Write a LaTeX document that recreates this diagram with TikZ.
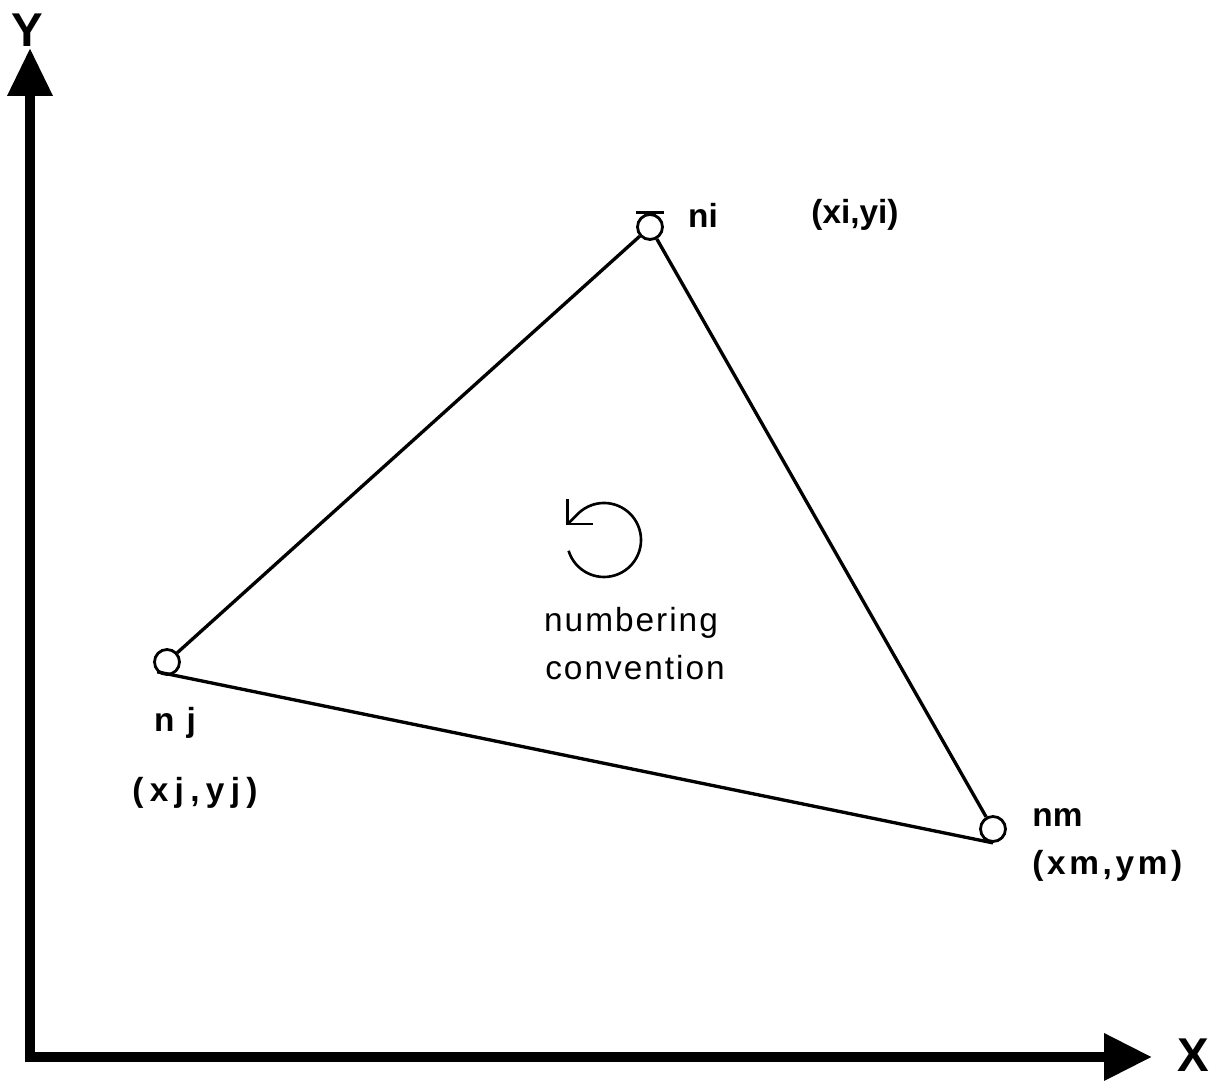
\documentclass[tikz,border=0pt]{standalone}
\usepackage{fontspec}
\setmainfont{Liberation Sans}
\usepackage{tikz}
\usetikzlibrary{arrows.meta,positioning}
\tikzset{
  mesh-axis/.style={draw=black, line width=0.2cm, line join=miter},
  mesh-node/.style={circle, draw=black, fill=white, line width=1.6pt, minimum size=0.5cm, inner sep=0pt},
  mesh-edge/.style={draw=black, line width=1.9pt},
  mesh-label/.style={font=\bfseries\fontsize{19}{22}\selectfont, inner sep=0pt},
  mesh-note/.style={font=\fontsize{19}{22}\selectfont\addfontfeature{LetterSpace=6}, inner sep=0pt},
  axis-label/.style={font=\bfseries\fontsize{27}{30}\selectfont, inner sep=0pt}
}

\begin{document}
\begin{tikzpicture}[x=0.02cm, y=0.02cm]
  \useasboundingbox (0,0) rectangle (1218,1084);

  % Axes
  \coordinate (origin) at (30,27);
  \coordinate (ytip) at (30,1036);
  \coordinate (xtip) at (1152,27);
  \draw[mesh-axis, {Triangle[length=0.96cm, width=0.86cm]}-{Triangle[length=0.96cm, width=0.9cm]}]
    (ytip) -- (origin) -- (xtip);
  \node[axis-label] (ylabel) at (27,1054) {Y};
  \node[axis-label] (xlabel) at (1193,29) {X};

  % Element sides
  \node[mesh-node] (ni) at (650,857) {};
  \node[mesh-node] (nj) at (167,422) {};
  \node[mesh-node] (nm) at (993,255) {};
  \draw[mesh-edge] (ni) -- (nj);
  \draw[mesh-edge] (nj.south west) -- (nm.south);
  \draw[mesh-edge] (nm) -- (ni);
  \draw[line width=2pt] ([xshift=-0.28cm, yshift=0.01cm]ni.north) -- ([xshift=0.28cm, yshift=0.01cm]ni.north);

  % Node labels
  \node[mesh-label] (ni-name) at (703,869) {ni};
  \node[mesh-label] (ni-xy) at (855,869) {(xi,yi)};
  \node[mesh-label, font=\bfseries\fontsize{19}{22}\selectfont\addfontfeature{LetterSpace=8}] (nj-name) at (175,361) {n j};
  \node[mesh-label, font=\bfseries\fontsize{19}{22}\selectfont\addfontfeature{LetterSpace=19}] (nj-xy) at (195,291) {(xj,yj)};
  \node[mesh-label, anchor=west] (nm-name) at (1032,266) {nm};
  \node[mesh-label, anchor=west, font=\bfseries\fontsize{19}{22}\selectfont\addfontfeature{LetterSpace=11}] (nm-xy) at (1032,218) {(xm,ym)};

  % Numbering convention
  \coordinate (turn) at (604,544);
  \draw[line width=1.5pt, -{Straight Barb[length=0.36cm, width=0.72cm]}]
    ([shift={(197:0.74cm)}]turn) arc[start angle=197, end angle=497, radius=0.74cm] -- ++(225:0.3cm);
  \node[mesh-note] (conv-top) at (631,461) {numbering};
  \node[mesh-note] (conv-bottom) at (635,416) {convention};
\end{tikzpicture}
\end{document}
